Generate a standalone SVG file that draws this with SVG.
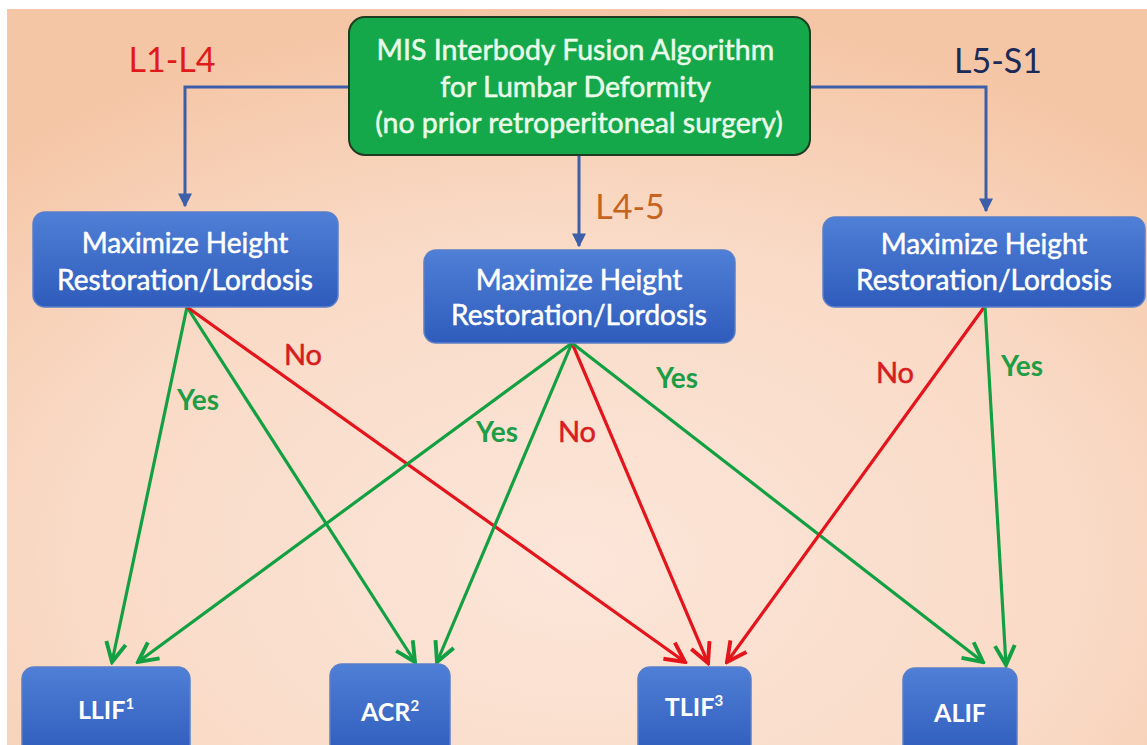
<svg xmlns="http://www.w3.org/2000/svg" width="1147" height="745" viewBox="0 0 1147 745">
<defs>
<radialGradient id="bg" cx="0.5" cy="0.75" r="0.75">
<stop offset="0" stop-color="#fce6d9"/>
<stop offset="0.6" stop-color="#f9dac6"/>
<stop offset="1" stop-color="#f5c6a6"/>
</radialGradient>
<linearGradient id="blue" x1="0" y1="0" x2="0" y2="1">
<stop offset="0" stop-color="#4f7fd6"/>
<stop offset="1" stop-color="#2f5cbc"/>
</linearGradient>
<marker id="mb" markerUnits="userSpaceOnUse" markerWidth="14" markerHeight="14" viewBox="0 0 10 10" refX="9" refY="5" orient="auto">
<path d="M0,0 L10,5 L0,10 Z" fill="#3d5ea8"/>
</marker>
<marker id="mg" markerUnits="userSpaceOnUse" markerWidth="26" markerHeight="26" viewBox="0 0 10 10" refX="9" refY="5" orient="auto">
<path d="M1.5,1.2 L9,5 L1.5,8.8" fill="none" stroke="#13a043" stroke-width="1.5" stroke-linejoin="miter"/>
</marker>
<marker id="mr" markerUnits="userSpaceOnUse" markerWidth="26" markerHeight="26" viewBox="0 0 10 10" refX="9" refY="5" orient="auto">
<path d="M1.5,1.2 L9,5 L1.5,8.8" fill="none" stroke="#e3141b" stroke-width="1.5" stroke-linejoin="miter"/>
</marker>
</defs>
<style>
.bx{fill:url(#blue);stroke:#5b7fc9;stroke-width:1.5}
.bt{font-family:Lato,"Open Sans",sans-serif;font-size:28px;fill:#ffffff;stroke:#ffffff;stroke-width:0.5;text-anchor:middle}
.bt2{font-family:Lato,"Open Sans",sans-serif;font-size:25px;font-weight:bold;fill:#ffffff;text-anchor:middle}
.lab{font-family:Lato,"Open Sans",sans-serif;font-size:34px;text-anchor:middle}
.yes{font-family:Lato,"Open Sans",sans-serif;font-size:28px;font-weight:bold;fill:#1e9d46;text-anchor:middle}
.no{font-family:Lato,"Open Sans",sans-serif;font-size:29px;fill:#d61d22;stroke:#d61d22;stroke-width:0.5;text-anchor:middle}
.cb{fill:none;stroke:#3d5ea8;stroke-width:3}
.cg{fill:none;stroke:#13a043;stroke-width:3.2;marker-end:url(#mg)}
.cr{fill:none;stroke:#e3141b;stroke-width:3.2;marker-end:url(#mr)}
</style>
<rect x="0" y="0" width="1147" height="745" fill="#ffffff"/>
<rect x="7" y="9" width="1140" height="736" fill="url(#bg)"/>

<g id="connectors">
<path class="cb" d="M349,87 H185 V206" marker-end="url(#mb)"/>
<path class="cb" d="M810,87 H986 V211" marker-end="url(#mb)"/>
<path class="cb" d="M579,155 V246" marker-end="url(#mb)"/>
<line class="cg" x1="187" y1="307" x2="112" y2="662"/>
<line class="cg" x1="187" y1="307" x2="415" y2="662"/>
<line class="cr" x1="187" y1="307" x2="685" y2="662"/>
<line class="cg" x1="572" y1="343" x2="138" y2="662"/>
<line class="cg" x1="572" y1="343" x2="437" y2="662"/>
<line class="cr" x1="572" y1="343" x2="708" y2="663"/>
<line class="cg" x1="572" y1="343" x2="983" y2="662"/>
<line class="cr" x1="985" y1="306" x2="727" y2="662"/>
<line class="cg" x1="985" y1="306" x2="1006" y2="665"/>
<text class="yes" x="198" y="410">Yes</text>
<text class="no" x="303" y="365">No</text>
<text class="yes" x="497" y="442">Yes</text>
<text class="no" x="577" y="442">No</text>
<text class="yes" x="677" y="388">Yes</text>
<text class="no" x="895" y="383">No</text>
<text class="yes" x="1022" y="376">Yes</text>
</g>

<g id="lab-l1l4"><text class="lab" x="172" y="72" fill="#e01a1a">L1-L4</text></g>
<g id="lab-l5s1"><text class="lab" x="998" y="73" fill="#1c2a58">L5-S1</text></g>
<g id="lab-l45"><text class="lab" x="630" y="219" fill="#c6631f">L4-5</text></g>

<g id="start">
<rect x="349" y="17" width="461" height="138" rx="16" fill="#15a84a" stroke="#1f3b22" stroke-width="2"/>
<text font-family="Lato,'Open Sans',sans-serif" font-size="28.5" fill="#eafbe9" stroke="#eafbe9" stroke-width="0.5" text-anchor="middle">
<tspan x="579" y="60">MIS Interbody Fusion Algorithm</tspan>
<tspan x="579" y="97">for Lumbar Deformity</tspan>
<tspan x="579" y="133">(no prior retroperitoneal surgery)</tspan>
</text>
</g>

<g id="max-left">
<rect class="bx" x="33" y="212" width="305" height="95" rx="12"/>
<text class="bt"><tspan x="185" y="253">Maximize Height</tspan><tspan x="185" y="290">Restoration/Lordosis</tspan></text>
</g>
<g id="max-mid">
<rect class="bx" x="424" y="250" width="311" height="93" rx="12"/>
<text class="bt"><tspan x="579" y="290">Maximize Height</tspan><tspan x="579" y="325">Restoration/Lordosis</tspan></text>
</g>
<g id="max-right">
<rect class="bx" x="823" y="217" width="322" height="90" rx="12"/>
<text class="bt"><tspan x="984" y="254">Maximize Height</tspan><tspan x="984" y="290">Restoration/Lordosis</tspan></text>
</g>

<g id="llif">
<rect class="bx" x="22" y="667" width="168" height="90" rx="12"/>
<text class="bt2" x="106" y="719">LLIF<tspan font-size="15" dy="-10">1</tspan></text>
</g>
<g id="acr">
<rect class="bx" x="330" y="664" width="120" height="93" rx="12"/>
<text class="bt2" x="390" y="721">ACR<tspan font-size="15" dy="-10">2</tspan></text>
</g>
<g id="tlif">
<rect class="bx" x="638" y="667" width="113" height="90" rx="12"/>
<text class="bt2" x="694" y="716">TLIF<tspan font-size="15" dy="-10">3</tspan></text>
</g>
<g id="alif">
<rect class="bx" x="903" y="668" width="114" height="89" rx="12"/>
<text class="bt2" x="960" y="722">ALIF</text>
</g>
</svg>
